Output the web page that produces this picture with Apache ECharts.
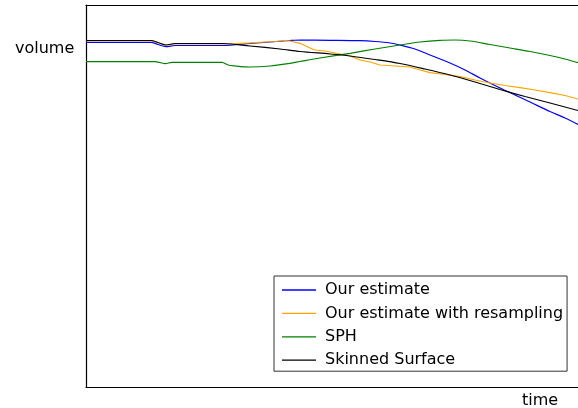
<!DOCTYPE html>
<html><head><meta charset="utf-8">
<script src="https://cdn.jsdelivr.net/npm/echarts@6/dist/echarts.min.js"></script>
<style>html,body{margin:0;padding:0;background:#fff}#c{width:578px;height:408px}</style>
</head><body><div id="c"></div>
<script>
// time (px offset units) and volume (height units)
const seriesNames = ['Our estimate', 'Our estimate with resampling', 'SPH', 'Skinned Surface'];
const estT = [0,65,72,80,89,137,164,184,204,214,244,274,289,304,314,329,344,364,379,394,414,429,444,464,479,492];
const estV = [344.7,344.7,342.5,340.3,341.5,341.5,343.5,345,346.5,347,346.7,346.3,345.5,344,342,338,332,324,317,309,299,292,285,275.5,269,262.5];
const resT = [0,65,80,89,137,149,164,179,189,199,204,214,224,229,239,254,264,274,284,294,309,324,334,344,359,374,389,404,419,434,449,464,479,492];
const resV = [346.3,346.3,342,343,343,343.5,344.2,345,345.5,346.5,346,343.7,339,337,336,333,331,327,325,322,321,320,317,314.3,312.5,310.3,307,304,301.5,299.3,297,294.3,291.5,288];
const sphT = [0,69,74,79,86,136,142,149,164,184,204,214,234,264,289,314,334,354,369,384,404,424,444,464,479,492];
const sphV = [325.3,325.3,324.5,323.3,324.7,324.7,322,321,320,321,323.7,325.5,329,333.7,338,342,345,346.7,347,346,342.5,339,335.5,331.5,328,324.3];
const skinT = [0,65,72,80,89,137,164,194,214,244,264,289,314,339,364,389,414,439,464,492];
const skinV = [346.5,346.5,344.5,342,343.5,343.5,341,338,335.5,333,331,327.5,323.5,318,312,305,297.5,290.5,284,276.5];

const pairs = (t, v) => t.map((x, i) => [x, v[i]]);
const colors = ['#0000ff', '#ffa500', '#008000', '#000000'];
const dataSets = [pairs(estT, estV), pairs(resT, resV), pairs(sphT, sphV), pairs(skinT, skinV)];

const hiddenAxis = {axisTick: {show: false}, axisLabel: {show: false}, splitLine: {show: false}};
const chart = echarts.init(document.getElementById('c'), null, {renderer: 'canvas'});
chart.setOption({
  animation: false,
  backgroundColor: '#fff',
  textStyle: {fontFamily: 'DejaVu Sans'},
  grid: {left: 86, top: 5, right: 0, bottom: 21},
  xAxis: [
    Object.assign({type: 'value', min: 0, max: 492, position: 'bottom', axisLine: {show: true, lineStyle: {color: '#000', width: 1.2}}}, hiddenAxis),
    Object.assign({type: 'value', min: 0, max: 492, position: 'top', axisLine: {show: true, lineStyle: {color: '#000', width: 1.2}}}, hiddenAxis)
  ],
  yAxis: Object.assign({type: 'value', min: 0, max: 382, axisLine: {show: true, onZero: false, lineStyle: {color: '#000', width: 1.2}}}, hiddenAxis),
  legend: {
    orient: 'vertical', left: 274, top: 276,
    data: seriesNames,
    icon: 'rect', itemWidth: 34, itemHeight: 1.3, itemGap: 7.4,
    padding: [6, 4, 3, 8],
    borderColor: '#333', borderWidth: 1, borderRadius: 0,
    backgroundColor: '#fff',
    textStyle: {fontFamily: 'DejaVu Sans', fontSize: 16, color: '#000', padding: [0, 0, 0, 4], lineHeight: 16}
  },
  graphic: [
    {type: 'text', left: 15, top: 41, style: {text: 'volume', font: '16px "DejaVu Sans"', fill: '#000'}},
    {type: 'text', left: 522, top: 393, style: {text: 'time', font: '16px "DejaVu Sans"', fill: '#000'}}
  ],
  series: seriesNames.map((n, i) => ({
    name: n, type: 'line', data: dataSets[i], showSymbol: false, symbol: 'none',
    smooth: i === 1 ? false : 0.3,
    color: colors[i],
    lineStyle: {color: colors[i], width: 1.2}
  }))
});
</script></body></html>
